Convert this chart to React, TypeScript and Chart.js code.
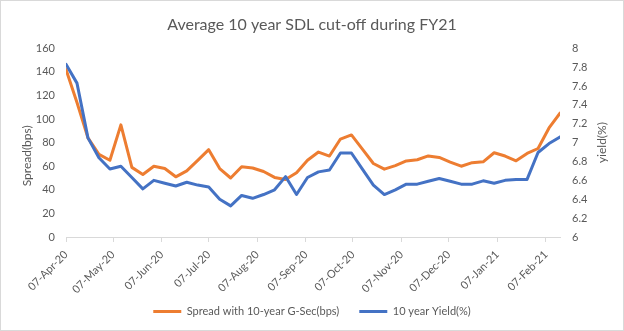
import React, { useEffect, useRef } from "react";
import { Chart, registerables } from "chart.js";

Chart.register(...registerables);

const chartTitle = "Average 10 year SDL cut-off during FY21";
const spreadLabel = "Spread with 10-year G-Sec(bps)";
const yieldLabel = "10 year Yield(%)";
const leftAxisTitle = "Spread(bps)";
const rightAxisTitle = "yield(%)";

const weekDates = [
  "2020-04-07", "2020-04-14", "2020-04-21", "2020-04-28",
  "2020-05-05", "2020-05-12", "2020-05-19", "2020-05-26",
  "2020-06-02", "2020-06-09", "2020-06-16", "2020-06-23", "2020-06-30",
  "2020-07-07", "2020-07-14", "2020-07-21", "2020-07-28",
  "2020-08-04", "2020-08-11", "2020-08-18", "2020-08-25",
  "2020-09-01", "2020-09-08", "2020-09-15", "2020-09-22", "2020-09-29",
  "2020-10-06", "2020-10-13", "2020-10-20", "2020-10-27",
  "2020-11-03", "2020-11-10", "2020-11-17", "2020-11-24",
  "2020-12-01", "2020-12-08", "2020-12-15", "2020-12-22", "2020-12-29",
  "2021-01-05", "2021-01-12", "2021-01-19", "2021-01-26",
  "2021-02-02", "2021-02-09", "2021-02-16",
];

const spreadBps = [
  142, 114, 84, 70, 65, 95, 59, 53, 60, 58, 51, 56, 65, 74, 58, 50,
  59.5, 58.5, 55.5, 50.5, 48.7, 54.4, 65, 72, 68.6, 83, 86.5, 74.5, 62.3,
  57.5, 60.5, 64.5, 65.5, 68.7, 67.4, 63.5, 60, 63, 63.7, 71.4, 68.6, 64.6,
  70.8, 75, 92.4, 105,
];

const yieldPct = [
  7.83, 7.63, 7.05, 6.84, 6.72, 6.75, 6.63, 6.51, 6.6, 6.57, 6.54, 6.58,
  6.55, 6.53, 6.4, 6.33, 6.44, 6.41, 6.45, 6.5, 6.64, 6.45, 6.63, 6.69,
  6.71, 6.89, 6.89, 6.72, 6.55, 6.45, 6.5, 6.56, 6.56, 6.59, 6.62, 6.59,
  6.56, 6.56, 6.595, 6.57, 6.6, 6.61, 6.61, 6.895, 6.99, 7.06,
];

const tickDates = [
  "2020-04-07", "2020-05-07", "2020-06-07", "2020-07-07", "2020-08-07",
  "2020-09-07", "2020-10-07", "2020-11-07", "2020-12-07", "2021-01-07",
  "2021-02-07",
];
const tickLabels = [
  "07-Apr-20", "07-May-20", "07-Jun-20", "07-Jul-20", "07-Aug-20",
  "07-Sep-20", "07-Oct-20", "07-Nov-20", "07-Dec-20", "07-Jan-21",
  "07-Feb-21",
];

const FONT = "Lato, 'Open Sans', sans-serif";
const TEXT = "#595959";
const LINE = "#D9D9D9";

const dayOf = (s: string) =>
  Math.round((Date.parse(s) - Date.parse(weekDates[0])) / 86400000);

const decor = {
  id: "decor",
  afterLayout(chart: any) {
    // let rotated date labels run into the legend band without being clipped
    const x = chart.scales.x;
    if (x) x.bottom = chart.height;
  },
  beforeDraw(chart: any) {
    const ctx = chart.ctx;
    ctx.save();
    ctx.fillStyle = "#ffffff";
    ctx.fillRect(0, 0, chart.width, chart.height);
    ctx.strokeStyle = LINE;
    ctx.lineWidth = 1;
    ctx.strokeRect(0.5, 0.5, chart.width - 1, chart.height - 1);
    ctx.restore();
  },
  afterDraw(chart: any) {
    const ctx = chart.ctx;
    const area = chart.chartArea;
    ctx.save();
    ctx.fillStyle = TEXT;
    ctx.font = `12px ${FONT}`;
    ctx.textAlign = "center";
    ctx.textBaseline = "middle";
    ctx.translate(27, area.top + (area.bottom - area.top) * 0.57);
    ctx.rotate(-Math.PI / 2);
    ctx.fillText(leftAxisTitle, 0, 0);
    ctx.restore();
    ctx.save();
    ctx.fillStyle = TEXT;
    ctx.font = `12px ${FONT}`;
    ctx.textAlign = "center";
    ctx.textBaseline = "middle";
    ctx.translate(602, (area.top + area.bottom) / 2);
    ctx.rotate(-Math.PI / 2);
    ctx.fillText(rightAxisTitle, 0, 0);
    ctx.restore();
  },
};

export default function App() {
  const ref = useRef<HTMLCanvasElement | null>(null);

  useEffect(() => {
    if (!ref.current) return;
    Chart.defaults.font.family = FONT;
    const tickDays = tickDates.map(dayOf);
    const chart = new Chart(ref.current, {
      type: "line",
      data: {
        datasets: [
          {
            label: spreadLabel,
            data: weekDates.map((d, i) => ({ x: dayOf(d), y: spreadBps[i] })),
            borderColor: "#ED7D31",
            backgroundColor: "#ED7D31",
            borderWidth: 3,
            pointRadius: 0,
            pointHoverRadius: 0,
            tension: 0,
            borderJoinStyle: "round",
            borderCapStyle: "round",
            yAxisID: "y",
            order: 1,
          },
          {
            label: yieldLabel,
            data: weekDates.map((d, i) => ({ x: dayOf(d), y: yieldPct[i] })),
            borderColor: "#4472C4",
            backgroundColor: "#4472C4",
            borderWidth: 3,
            pointRadius: 0,
            pointHoverRadius: 0,
            tension: 0,
            borderJoinStyle: "round",
            borderCapStyle: "round",
            yAxisID: "y1",
            order: 0,
          },
        ],
      },
      options: {
        responsive: false,
        animation: false,
        devicePixelRatio: 1,
        layout: { padding: { left: 0, right: 0, top: 0, bottom: 4 } },
        plugins: {
          title: {
            display: true,
            text: chartTitle,
            color: TEXT,
            font: { family: FONT, size: 16, weight: "normal" },
            padding: { top: 15, bottom: 14 },
          },
          legend: {
            display: true,
            position: "bottom",
            labels: {
              usePointStyle: true,
              pointStyle: "line",
              pointStyleWidth: 28,
              color: TEXT,
              font: { family: FONT, size: 11 },
              padding: 20,
              sort: (a: any, b: any) => a.datasetIndex - b.datasetIndex,
            },
          },
          tooltip: { enabled: false },
        },
        scales: {
          x: {
            type: "linear",
            min: 0,
            max: dayOf(weekDates[weekDates.length - 1]),
            afterBuildTicks: (s: any) => {
              s.ticks = tickDays.map((v) => ({ value: v }));
            },
            afterFit: (s: any) => {
              s.height = 49;
            },
            ticks: {
              autoSkip: false,
              minRotation: 45,
              maxRotation: 45,
              color: TEXT,
              font: { family: FONT, size: 11 },
              padding: 6,
              callback: (_v: any, i: number) => tickLabels[i],
            },
            grid: {
              display: true,
              drawOnChartArea: false,
              drawTicks: true,
              tickLength: 5,
              color: LINE,
            },
            border: { display: true, color: LINE },
          },
          y: {
            position: "left",
            min: 0,
            max: 160,
            afterFit: (s: any) => {
              s.width = 66;
            },
            ticks: {
              stepSize: 20,
              padding: 11,
              color: TEXT,
              font: { family: FONT, size: 11 },
            },
            grid: { display: false, drawTicks: false },
            border: { display: false },
          },
          y1: {
            position: "right",
            min: 6,
            max: 8,
            afterFit: (s: any) => {
              s.width = 64;
            },
            ticks: {
              stepSize: 0.2,
              padding: 12,
              color: TEXT,
              font: { family: FONT, size: 11 },
              callback: (v: any) => String(Number(Number(v).toFixed(1))),
            },
            grid: { display: false, drawTicks: false },
            border: { display: false },
          },
        },
      },
      plugins: [decor],
    } as any);
    return () => chart.destroy();
  }, []);

  return (
    <div style={{ position: "absolute", left: 0, top: 0, width: 624, height: 331 }}>
      <canvas ref={ref} width={624} height={331} style={{ display: "block" }} />
    </div>
  );
}
